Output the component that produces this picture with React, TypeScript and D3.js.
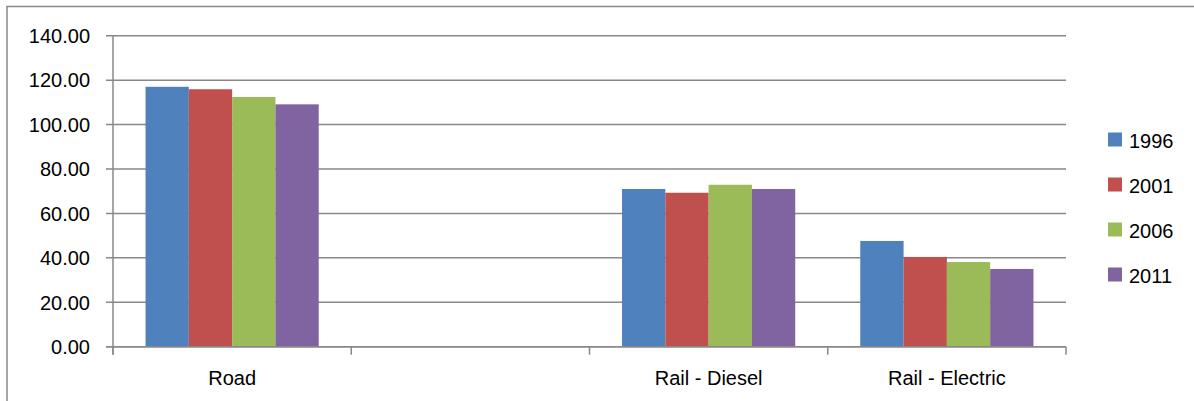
import React from 'react';
import * as d3 from 'd3';

// categories on the x axis (second slot is empty in the source chart)
const categories = ['Road', '', 'Rail - Diesel', 'Rail - Electric'];
const years = ['1996', '2001', '2006', '2011'];
const colors = ['#4F81BD', '#C0504D', '#9BBB59', '#8064A2'];

// values per year, one entry per category (null = no bar)
const v1996 = [117.0, null, 71.0, 47.6];
const v2001 = [115.9, null, 69.3, 40.4];
const v2006 = [112.4, null, 72.9, 38.1];
const v2011 = [109.1, null, 71.0, 35.0];

const yTicks = [0, 20, 40, 60, 80, 100, 120, 140];

const W = 1194;
const H = 401;
const plot = { left: 113, right: 1066, top: 35.7, bottom: 346.7 };
const font = '"Liberation Sans", Arial, sans-serif';
const gridColor = '#888888';

export default function App() {
  const series = [v1996, v2001, v2006, v2011];

  const x = d3.scaleBand<string>()
    .domain(categories.map((c, i) => i + ':' + c))
    .range([plot.left, plot.right]);

  const bw = x.bandwidth();
  // gap width ~150% of a bar => outer padding on each side of a group
  const x1 = d3.scaleBand<string>()
    .domain(years)
    .range([bw * 0.1365, bw * (1 - 0.1365)]);

  const y = d3.scaleLinear().domain([0, 140]).range([plot.bottom, plot.top]);

  const boundaries = categories.map((c, i) => x(i + ':' + c) as number).concat(plot.right);

  return (
    <svg
      width={W}
      height={H}
      style={{ position: 'absolute', left: 0, top: 0, background: '#fff' }}
      fontFamily={font}
    >
      {/* chart frame */}
      <rect x={7} y={6.5} width={W + 10} height={H + 10} fill="none" stroke={gridColor} strokeWidth={1.5} />

      {/* gridlines and y tick labels */}
      {yTicks.map((t) => (
        <g key={t}>
          <line x1={plot.left - 7} x2={plot.right} y1={y(t)} y2={y(t)} stroke={gridColor} strokeWidth={1.5} />
          <text x={90} y={y(t) + 7.3} textAnchor="end" fontSize={20} fill="#000">
            {t.toFixed(2)}
          </text>
        </g>
      ))}

      {/* bars */}
      {categories.map((c, ci) => (
        <g key={ci} transform={`translate(${x(ci + ':' + c)},0)`}>
          {years.map((yr, si) => {
            const v = series[si][ci];
            if (v == null) return null;
            return (
              <rect
                key={yr}
                x={x1(yr)}
                y={y(v)}
                width={x1.bandwidth()}
                height={y(0) - y(v)}
                fill={colors[si]}
              />
            );
          })}
        </g>
      ))}

      {/* axes */}
      <line x1={plot.left} x2={plot.left} y1={plot.top} y2={plot.bottom + 8} stroke={gridColor} strokeWidth={1.5} />
      <line x1={plot.left - 7} x2={plot.right} y1={plot.bottom} y2={plot.bottom} stroke={gridColor} strokeWidth={1.5} />
      {boundaries.map((b, i) => (
        <line key={i} x1={b} x2={b} y1={plot.bottom} y2={plot.bottom + 8} stroke={gridColor} strokeWidth={1.5} />
      ))}

      {/* category labels */}
      {categories.map((c, i) => (
        <text key={i} x={(x(i + ':' + c) as number) + bw / 2} y={385} textAnchor="middle" fontSize={20} fill="#000">
          {c}
        </text>
      ))}

      {/* legend */}
      {years.map((yr, i) => (
        <g key={yr} transform={`translate(1108,${140 + i * 45})`}>
          <rect x={0} y={-7.5} width={14} height={14} fill={colors[i]} />
          <text x={21} y={7.5} fontSize={20} fill="#000">{yr}</text>
        </g>
      ))}
    </svg>
  );
}
